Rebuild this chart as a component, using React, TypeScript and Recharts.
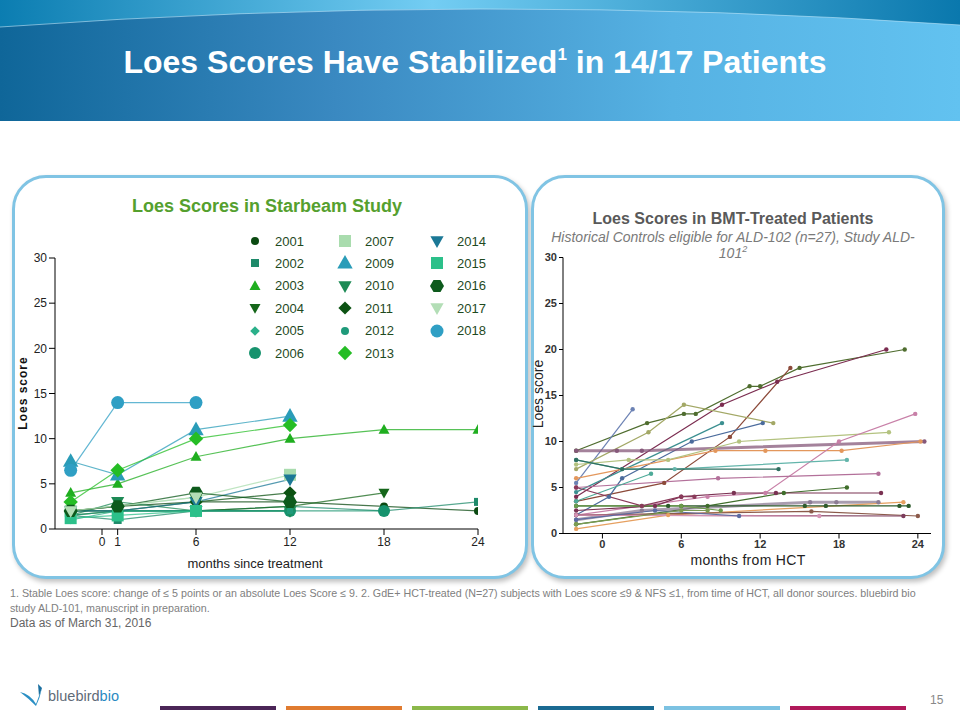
import React from "react";
import { LineChart, Line, XAxis, YAxis } from "recharts";

const FONT = "Arial, 'Liberation Sans', sans-serif";

// ---- Starbeam study (left chart) ----
const starbeamIds = [
  "2001", "2002", "2003", "2004", "2005", "2006",
  "2007", "2009", "2010", "2011", "2012", "2013",
  "2014", "2015", "2016", "2017", "2018",
];
const starbeamMonths = [
  [-2, 1, 6, 12, 18, 24],
  [-2, 1, 6, 12, 18, 24],
  [-2, 1, 6, 12, 18, 24],
  [-2, 1, 6, 12, 18],
  [-2, 1, 6, 12],
  [-2, 6, 12, 18],
  [-2, 6, 12],
  [-2, 1, 6, 12],
  [-2, 1, 6, 12],
  [-2, 1, 6, 12],
  [-2, 1, 6, 12],
  [-2, 1, 6, 12],
  [-2, 1, 6, 12],
  [-2, 1, 6],
  [-2, 1, 6, 12],
  [-2, 6],
  [-2, 1, 6],
];
const starbeamScores = [
  [2, 2.5, 3, 3, 2.5, 2],
  [1.5, 1, 2, 2.5, 2, 3],
  [4, 5, 8, 10, 11, 11],
  [1.5, 2, 2, 2.5, 4],
  [1, 2, 2, 2],
  [2, 2, 2, 2],
  [2, 3.5, 6],
  [7.5, 6, 11, 12.5],
  [1.5, 3, 2, 2],
  [2, 2, 3, 4],
  [1.5, 2, 2, 2],
  [3, 6.5, 10, 11.5],
  [2, 2, 3, 5.5],
  [1.2, 1.5, 2],
  [2, 2.5, 4, 3],
  [2, 3.5],
  [6.5, 14, 14],
];
const starbeamXTicks = [0, 1, 6, 12, 18, 24];
const scoreTicks = [0, 5, 10, 15, 20, 25, 30];

// marker style per patient (shape, colour, half-size)
const starbeamStyle = [
  { shape: "circle", color: "#0b4a12", size: 4 },
  { shape: "square", color: "#1e8a6a", size: 4 },
  { shape: "triangle", color: "#1fae1f", size: 5 },
  { shape: "down", color: "#15661a", size: 5 },
  { shape: "diamond", color: "#2bb08a", size: 3.5 },
  { shape: "circle", color: "#17936e", size: 6 },
  { shape: "square", color: "#a9dcae", size: 6 },
  { shape: "triangle", color: "#2a9cb8", size: 7 },
  { shape: "down", color: "#1d8a55", size: 6 },
  { shape: "diamond", color: "#0c5212", size: 5.5 },
  { shape: "circle", color: "#1f9a7a", size: 3.5 },
  { shape: "diamond", color: "#25bd25", size: 6 },
  { shape: "down", color: "#1b7896", size: 6 },
  { shape: "square", color: "#2cc08a", size: 6 },
  { shape: "hexagon", color: "#0d5a1c", size: 7 },
  { shape: "down", color: "#b3deb6", size: 6 },
  { shape: "circle", color: "#2f9fc4", size: 6.5 },
];

// ---- BMT-treated historical controls (right chart) ----
const bmtMonths = [
  [-2, 3.4, 6.2, 7.1, 11.2, 12, 15, 23],
  [-2, 9.1, 13.3, 21.6],
  [-2, 4.7, 9.7, 14.3],
  [-2, 2.3],
  [-2, 3.5, 6.2, 13],
  [-2, 0.5, 1.5, 6.8, 12.2],
  [-2, 9.1],
  [-2, 1.1, 3, 24.5],
  [-2, 8.6, 12.4, 18.2, 24.2],
  [-2, 2, 5, 10.4, 21.8],
  [-2, 8, 12.4, 18, 23.8],
  [-2, 1.5, 5.5, 18.6],
  [-2, 1.5, 13.4],
  [-2, 8.8, 21],
  [-2, 8, 13.8, 18.6],
  [-2, 4, 6, 10, 13.2, 21.2],
  [-2, 3, 15.8, 17.8, 21],
  [-2, 5, 22.9],
  [-2, 5, 6, 15.4, 17, 22.6, 23.3],
  [-2, 15.9, 24],
  [-2, 22.9],
  [-2, 16.5],
  [-2, 4, 10.4],
  [-2, 6, 8],
  [-2, 3.7],
  [-2, 3, 6, 9],
  [-2, 3, 6, 7],
];
const bmtScores = [
  [9, 12, 13, 13, 16, 16, 18, 20],
  [4, 14, 16.5, 20],
  [3.5, 5.5, 10.5, 18],
  [5.5, 13.5],
  [7, 11, 14, 12],
  [2, 4, 6, 10, 12],
  [4.5, 12],
  [9, 9, 9, 10],
  [6, 9, 9, 9, 10],
  [7.5, 8, 8, 10, 11],
  [2, 4, 4.4, 10, 13],
  [8, 7, 7, 8],
  [8, 7, 7],
  [5, 6, 6.5],
  [1, 3, 4.4, 5],
  [2.5, 3, 4, 4.4, 4.4, 4.4],
  [1.5, 2.5, 3.4, 3.4, 3.4],
  [0.5, 2, 3.4],
  [3, 3, 3, 3, 3, 3, 3],
  [2, 2.4, 1.9],
  [2, 1.9],
  [2, 1.9],
  [1.5, 2.5, 1.9],
  [1, 2.5, 2.5],
  [3.5, 6.5],
  [3, 3, 3, 2.5],
  [5, 3, 4, 4],
];
const bmtXTicks = [0, 6, 12, 18, 24];

const bmtColors = [
  "#4f6d2f", "#7b2c50", "#8c4a3a", "#6c82b4", "#a3a866", "#4b6b9c", "#3b8f90",
  "#86587a", "#e3975c", "#b3c27f", "#c880a8", "#63b5ab", "#2f6f60", "#b3709a",
  "#3f6e2b", "#7a3252", "#8c7c94", "#e6a060", "#2d5a2b", "#8b5a4a", "#7c3c5c",
  "#d595b5", "#5b6ba2", "#7c9c52", "#4eaa98", "#6b9b4b", "#8a3a5a",
];
const bmtThick = [7, 16];

const footerColors = ["#4b2557", "#e07b30", "#8bb84a", "#1a6a92", "#7cc2e2", "#b0195a"];

function Marker({ cx, cy, shape, color, size }: any) {
  if (cx == null || cy == null) return null;
  const s = size;
  if (shape === "square")
    return <rect x={cx - s} y={cy - s} width={2 * s} height={2 * s} fill={color} />;
  if (shape === "triangle")
    return <polygon points={`${cx},${cy - s * 1.15} ${cx + s * 1.1},${cy + s * 0.8} ${cx - s * 1.1},${cy + s * 0.8}`} fill={color} />;
  if (shape === "down")
    return <polygon points={`${cx},${cy + s * 1.15} ${cx + s * 1.1},${cy - s * 0.8} ${cx - s * 1.1},${cy - s * 0.8}`} fill={color} />;
  if (shape === "diamond")
    return <polygon points={`${cx},${cy - s * 1.2} ${cx + s * 1.2},${cy} ${cx},${cy + s * 1.2} ${cx - s * 1.2},${cy}`} fill={color} />;
  if (shape === "hexagon") {
    const pts = [0, 60, 120, 180, 240, 300]
      .map((a) => `${cx + s * Math.cos((a * Math.PI) / 180)},${cy + s * Math.sin((a * Math.PI) / 180)}`)
      .join(" ");
    return <polygon points={pts} fill={color} />;
  }
  return <circle cx={cx} cy={cy} r={s} fill={color} />;
}

function StarbeamLegend() {
  const colX = [255, 345, 437];
  return (
    <>
      {starbeamIds.map((id, i) => {
        const col = Math.floor(i / 6);
        const row = i % 6;
        const st = starbeamStyle[i];
        const y = 241 + row * 22.4;
        return (
          <div key={id} style={{ position: "absolute", left: colX[col] - 10, top: y - 10, height: 20, display: "flex", alignItems: "center" }}>
            <svg width={20} height={20}>
              <Marker cx={10} cy={10} shape={st.shape} color={st.color} size={Math.max(st.size, 4)} />
            </svg>
            <span style={{ marginLeft: 10, fontSize: 13, color: "#1f4a1f", fontFamily: FONT }}>{id}</span>
          </div>
        );
      })}
    </>
  );
}

function StarbeamChart() {
  return (
    <div style={{ position: "absolute", left: 0, top: 240 }}>
      <LineChart width={500} height={350} margin={{ top: 18, right: 22, left: 20, bottom: 31 }}>
        <XAxis
          type="number"
          dataKey="x"
          domain={[-3, 24]}
          ticks={starbeamXTicks}
          allowDataOverflow
          height={30}
          tickSize={6}
          tickMargin={2}
          stroke="#000"
          tick={{ fill: "#222", fontSize: 12, fontFamily: FONT }}
        />
        <YAxis
          type="number"
          domain={[0, 30]}
          ticks={scoreTicks}
          width={35}
          tickSize={6}
          tickMargin={2}
          stroke="#000"
          tick={{ fill: "#222", fontSize: 12, fontFamily: FONT }}
        />
        {starbeamIds.map((id, i) => {
          const st = starbeamStyle[i];
          const data = starbeamMonths[i].map((m, j) => ({ x: m, y: starbeamScores[i][j] }));
          return (
            <Line
              key={id}
              data={data}
              dataKey="y"
              stroke={st.color}
              strokeOpacity={0.75}
              strokeWidth={1.2}
              isAnimationActive={false}
              dot={(p: any) => <Marker key={`${id}-${p.index}`} cx={p.cx} cy={p.cy} shape={st.shape} color={st.color} size={st.size} />}
              activeDot={false}
            />
          );
        })}
      </LineChart>
    </div>
  );
}

function BmtChart() {
  return (
    <div style={{ position: "absolute", left: 530, top: 240 }}>
      <LineChart width={412} height={340} margin={{ top: 17.5, right: 11, left: 8, bottom: 21.5 }}>
        <XAxis
          type="number"
          dataKey="x"
          domain={[-3, 25]}
          ticks={bmtXTicks}
          allowDataOverflow
          height={25}
          tickSize={5}
          tickMargin={2}
          stroke="#000"
          tick={{ fill: "#333", fontSize: 11, fontWeight: "bold", fontFamily: FONT }}
        />
        <YAxis
          type="number"
          domain={[0, 30]}
          ticks={scoreTicks}
          width={25}
          tickSize={4}
          tickMargin={2}
          stroke="#000"
          tick={{ fill: "#333", fontSize: 11, fontWeight: "bold", fontFamily: FONT }}
        />
        {bmtMonths.map((months, i) => {
          const data = months.map((m, j) => ({ x: m, y: bmtScores[i][j] }));
          const thick = bmtThick.includes(i);
          return (
            <Line
              key={i}
              data={data}
              dataKey="y"
              stroke={bmtColors[i]}
              strokeWidth={thick ? 3 : 1.2}
              strokeOpacity={thick ? 0.75 : 1}
              isAnimationActive={false}
              dot={{ r: 2.2, fill: bmtColors[i], stroke: "none" }}
              activeDot={false}
            />
          );
        })}
      </LineChart>
    </div>
  );
}

export default function App() {
  const panel = {
    position: "absolute" as const,
    top: 175,
    height: 398,
    border: "3px solid #80c4e4",
    borderRadius: 34,
    boxShadow: "2px 3px 5px rgba(0,0,0,0.25)",
    background: "#fff",
  };
  const subLine = { position: "absolute" as const, left: 533, width: 400, textAlign: "center" as const, color: "#7a7a7a", fontSize: 14, fontStyle: "italic", lineHeight: "16px" };
  return (
    <div style={{ position: "absolute", left: 0, top: 0, width: 960, height: 720, background: "#fff", fontFamily: FONT, overflow: "hidden" }}>
      <svg width={960} height={121} style={{ position: "absolute", left: 0, top: 0 }}>
        <defs>
          <linearGradient id="hdr" x1="0" x2="1" y1="0" y2="0">
            <stop offset="0" stopColor="#0f6699" />
            <stop offset="0.35" stopColor="#3a89c1" />
            <stop offset="0.7" stopColor="#56b2e3" />
            <stop offset="1" stopColor="#62c2f0" />
          </linearGradient>
          <linearGradient id="arc" x1="0" x2="1" y1="0" y2="0">
            <stop offset="0" stopColor="#0b7db1" />
            <stop offset="0.45" stopColor="#73cdf3" />
            <stop offset="1" stopColor="#0a78ad" />
          </linearGradient>
        </defs>
        <rect width={960} height={121} fill="url(#hdr)" />
        <path d="M0 0 H960 V25 Q480 -8 0 27 Z" fill="url(#arc)" />
        <path d="M0 27 Q480 -8 960 25" fill="none" stroke="#bfe6f8" strokeWidth={1} opacity={0.6} />
      </svg>
      <div style={{ position: "absolute", left: 0, top: 44, width: 950, textAlign: "center", color: "#fff", fontSize: 32, fontWeight: "bold" }}>
        Loes Scores Have Stabilized<sup style={{ fontSize: 17, verticalAlign: "top", position: "relative", top: 1 }}>1</sup> in 14/17 Patients
      </div>

      <div style={{ ...panel, left: 12, width: 510 }} />
      <div style={{ ...panel, left: 531, width: 408 }} />

      <div style={{ position: "absolute", left: 12, width: 510, top: 196, textAlign: "center", color: "#55a02e", fontSize: 18, fontWeight: "bold" }}>
        Loes Scores in Starbeam Study
      </div>
      <StarbeamChart />
      <StarbeamLegend />
      <div style={{ position: "absolute", left: 23, top: 393, transform: "translate(-50%, -50%) rotate(-90deg)", fontSize: 12, fontWeight: "bold", letterSpacing: 1, color: "#111", whiteSpace: "nowrap" }}>
        Loes score
      </div>
      <div style={{ position: "absolute", left: 155, width: 200, top: 556, textAlign: "center", fontSize: 13, color: "#222" }}>
        months since treatment
      </div>

      <div style={{ position: "absolute", left: 533, width: 400, top: 209, textAlign: "center", color: "#595959", fontSize: 16, fontWeight: "bold", lineHeight: "19px" }}>
        Loes Scores in BMT-Treated Patients
      </div>
      <div style={{ ...subLine, top: 229 }}>
        <span>Historical Controls eligible for ALD-102 (n=27), Study ALD-</span>
      </div>
      <div style={{ ...subLine, top: 245 }}>
        <span>101<sup style={{ fontSize: 9, lineHeight: 0 }}>2</sup></span>
      </div>
      <BmtChart />
      <div style={{ position: "absolute", left: 538, top: 394, transform: "translate(-50%, -50%) rotate(-90deg)", fontSize: 14, color: "#222", whiteSpace: "nowrap" }}>
        Loes score
      </div>
      <div style={{ position: "absolute", left: 648, width: 200, top: 552, textAlign: "center", fontSize: 14, letterSpacing: 0.3, color: "#222" }}>
        months from HCT
      </div>

      <div style={{ position: "absolute", left: 10, top: 586, width: 925, fontSize: 10.7, lineHeight: "15px", color: "#808080" }}>
        1. Stable Loes score: change of ≤ 5 points or an absolute Loes Score ≤ 9. 2. GdE+ HCT-treated (N=27) subjects with Loes score ≤9 &amp; NFS ≤1, from time of HCT, all donor sources. bluebird bio study ALD-101, manuscript in preparation.
      </div>
      <div style={{ position: "absolute", left: 10, top: 616, fontSize: 12, color: "#666" }}>Data as of March 31, 2016</div>

      <svg width={40} height={30} style={{ position: "absolute", left: 16, top: 680 }}>
        <path d="M4 12 Q14 14 20 24 L26 8 Q24 18 20 26 Q12 18 4 12 Z" fill="#2a8fc4" />
        <path d="M22 4 L26 8 L23 16 Z" fill="#1a6fa0" />
      </svg>
      <div style={{ position: "absolute", left: 48, top: 688, fontSize: 14.5, color: "#5f6b78" }}>
        bluebird<span style={{ color: "#2a8ac2" }}>bio</span>
      </div>
      {footerColors.map((c, i) => (
        <div key={c} style={{ position: "absolute", left: 160 + i * 126, top: 706, width: 116, height: 4, background: c }} />
      ))}
      <div style={{ position: "absolute", left: 930, top: 693, fontSize: 12, color: "#888" }}>15</div>
    </div>
  );
}
